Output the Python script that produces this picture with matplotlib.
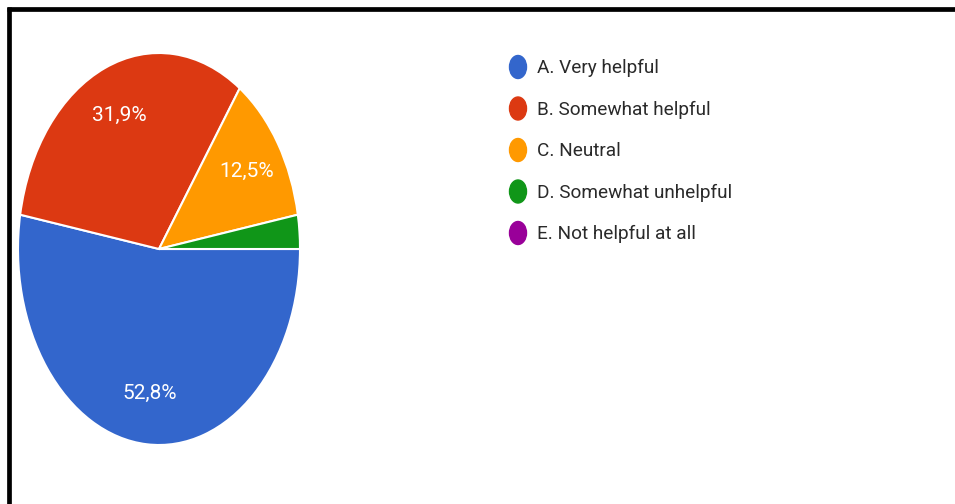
import matplotlib.pyplot as plt
from matplotlib.patches import Ellipse
from matplotlib.lines import Line2D

labels = ["A. Very helpful", "B. Somewhat helpful", "C. Neutral",
          "D. Somewhat unhelpful", "E. Not helpful at all"]
shares = [52.8, 31.9, 12.5, 2.8, 0.0]
colors = ["#3366cc", "#dc3912", "#ff9900", "#109618", "#990099"]

W, H = 955, 504
fig = plt.figure(figsize=(W / 100, H / 100), dpi=100)
plt.rcParams["font.family"] = ["Roboto", "DejaVu Sans"]

# frame lines along the top and left edge
fig.add_artist(Line2D([7 / W, 1], [1 - 9 / H, 1 - 9 / H], color="black", lw=3.4,
                      transform=fig.transFigure, solid_capstyle="butt"))
fig.add_artist(Line2D([9 / W, 9 / W], [0, 1 - 7 / H], color="black", lw=3.4,
                      transform=fig.transFigure, solid_capstyle="butt"))

# pie, stretched vertically
cx, cy, rx, ry = 159, 249, 141, 196
ax = fig.add_axes([(cx - rx) / W, 1 - (cy + ry) / H, 2 * rx / W, 2 * ry / H])


def pct(v):
    return f"{v:.1f}%".replace(".", ",") if v >= 5 else ""


nonzero = [(s, c) for s, c in zip(shares, colors) if s > 0]
wedges, texts, autotexts = ax.pie(
    [s for s, _ in nonzero], colors=[c for _, c in nonzero],
    startangle=0, counterclock=False, radius=1, autopct=pct, pctdistance=0.74,
    wedgeprops=dict(edgecolor="white", linewidth=1.5),
    textprops=dict(color="white", fontsize=15))
ax.set_aspect("auto")
ax.set_xlim(-1, 1)
ax.set_ylim(-1, 1)
ax.axis("off")

# legend drawn in pixel coordinates
lg = fig.add_axes([0, 0, 1, 1], zorder=-1)
lg.set_xlim(0, W)
lg.set_ylim(H, 0)
lg.axis("off")
for i, (lab, col) in enumerate(zip(labels, colors)):
    y = 67 + i * 41.5
    lg.add_patch(Ellipse((518, y), 17, 23, color=col))
    lg.text(537, y + 1, lab, fontsize=13.7, color="#2a2a2a", va="center", ha="left")

fig.savefig("out.png", dpi=100)
